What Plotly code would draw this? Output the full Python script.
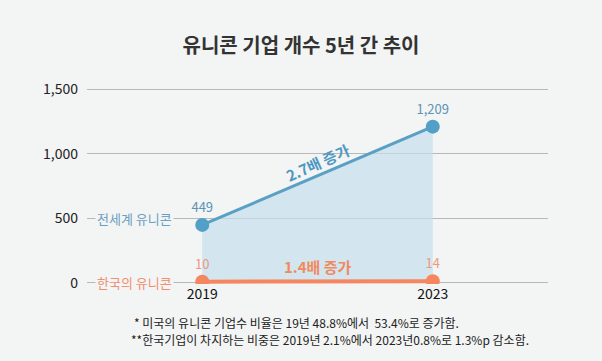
import plotly.graph_objects as go

years = [2019, 2023]
world = [449, 1209]
korea = [10, 14]
world_text = ["449", "1,209"]
korea_text = ["10", "14"]
y_ticks = [0, 500, 1000, 1500]
y_tick_labels = ["0", "500", "1,000", "1,500"]
notes = ["* 미국의 유니콘 기업수 비율은 19년 48.8%에서  53.4%로 증가함.",
         "**한국기업이 차지하는 비중은 2019년 2.1%에서 2023년0.8%로 1.3%p 감소함."]

BG = "#f3f4f4"
BLUE = "#52a0c8"
ORANGE = "#f5865f"
FONT = "Noto Sans CJK KR"

fig = go.Figure()
fig.add_trace(go.Scatter(
    x=years, y=world, mode="none", fill="tozeroy",
    fillcolor="rgba(196,222,235,0.7)", hoverinfo="skip", showlegend=False))
fig.add_trace(go.Scatter(
    x=years, y=world, mode="lines+markers+text", text=world_text,
    textposition="top center", textfont=dict(color="#5d93b6", size=13, family=FONT),
    line=dict(color="#5aa0c4", width=3), marker=dict(size=14, color=BLUE),
    showlegend=False))
fig.add_trace(go.Scatter(
    x=years, y=korea, mode="lines+markers+text", text=korea_text,
    textposition="top center", textfont=dict(color="#eb9a80", size=13, family=FONT),
    line=dict(color=ORANGE, width=4), marker=dict(size=14, color=ORANGE),
    showlegend=False))

fig.update_layout(
    width=602, height=361, paper_bgcolor=BG, plot_bgcolor=BG,
    margin=dict(l=87, r=54, t=88, b=77),
    font=dict(family=FONT, color="#222"),
    title=dict(text="<b>유니콘 기업 개수 5년 간 추이</b>", x=0.5, xanchor="center",
               y=1 - 46 / 361, yanchor="middle", font=dict(size=20, color="#333", family=FONT)),
    xaxis=dict(range=[2017, 2025], tickvals=years, ticktext=[str(y) for y in years],
               showgrid=False, zeroline=False, showline=False, ticks="",
               tickfont=dict(size=14, color="#111", family=FONT)),
    yaxis=dict(range=[-8, 1508], tickvals=y_ticks, ticktext=y_tick_labels,
               showgrid=True, gridcolor="#b8b8b8", gridwidth=1,
               zeroline=True, zerolinecolor="#b8b8b8", zerolinewidth=1,
               ticks="", ticklabelstandoff=8,
               tickfont=dict(size=14, color="#222", family=FONT)),
)

fig.add_annotation(x=2017.83, y=500, xref="x", yref="y", text="전세계 유니콘",
                   showarrow=False, bgcolor=BG, font=dict(size=13, color="#6a9fc2", family=FONT),
                   borderpad=1)
fig.add_annotation(x=2017.83, y=0, xref="x", yref="y", text="한국의 유니콘",
                   showarrow=False, bgcolor=BG, font=dict(size=13, color="#f08f70", family=FONT),
                   borderpad=1)
fig.add_annotation(x=2021, y=930, xref="x", yref="y", text="<b>2.7배 증가</b>",
                   showarrow=False, textangle=-24, font=dict(size=15, color="#4e98c2", family=FONT))
fig.add_annotation(x=2021, y=130, xref="x", yref="y", text="<b>1.4배 증가</b>",
                   showarrow=False, font=dict(size=15, color="#f08a60", family=FONT))
for i, (note, xpx) in enumerate(zip(notes, [132, 129])):
    fig.add_annotation(x=(xpx - 87) / 461, y=(284 - (322 + 17 * i)) / 196,
                       xref="paper", yref="paper", xanchor="left", yanchor="middle",
                       showarrow=False, text=note,
                       font=dict(size=12, color="#222", family=FONT))

fig.write_html("out.html", config={"displayModeBar": False},
               post_script="document.body.style.margin='0';")
